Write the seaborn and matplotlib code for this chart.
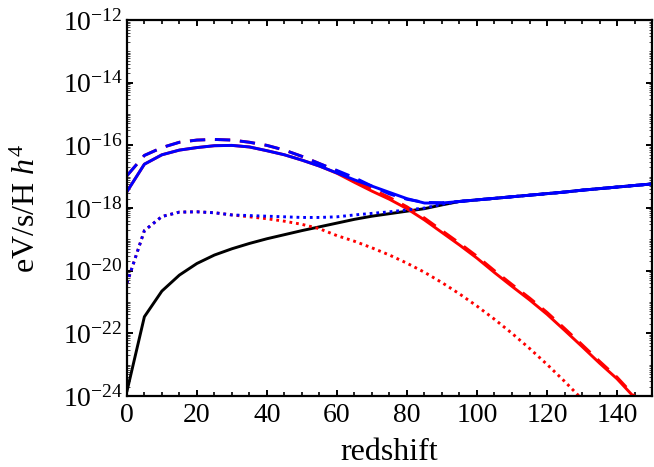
import numpy as np
import pandas as pd
import matplotlib
matplotlib.use("Agg")
import matplotlib.pyplot as plt
import matplotlib.ticker as mticker
import seaborn as sns

# ---------------- data (log10 of eV/s/H h^4) ----------------
z = [0, 5, 10, 15, 20, 25, 30, 35, 40, 45, 50, 55, 60, 65, 70, 75, 80, 85, 90,
     95, 100, 105, 110, 115, 120, 125, 130, 135, 140, 145, 150]

black_solid = [-23.86, -21.47, -20.65, -20.14, -19.77, -19.50, -19.30, -19.13, -18.98,
               -18.85, -18.72, -18.60, -18.48, -18.36, -18.26, -18.18, -18.10, -18.02,
               -17.90, -17.79, -17.74, -17.69, -17.64, -17.59, -17.54, -17.49, -17.43,
               -17.38, -17.33, -17.28, -17.23]

blue_solid = [-17.48, -16.60, -16.30, -16.15, -16.07, -16.01, -16.00, -16.05, -16.17,
              -16.30, -16.47, -16.66, -16.88, -17.10, -17.30, -17.50, -17.70, -17.84,
              -17.84, -17.79, -17.74, -17.69, -17.64, -17.59, -17.54, -17.49, -17.43,
              -17.38, -17.33, -17.28, -17.23]

blue_dashed = [-16.97, -16.32, -16.07, -15.90, -15.83, -15.81, -15.83, -15.90, -16.00,
               -16.15, -16.35, -16.58, -16.80, -17.03, -17.30, -17.55, -17.72, -17.82,
               -17.83, -17.79, -17.74, -17.69, -17.64, -17.59, -17.54, -17.49, -17.43,
               -17.38, -17.33, -17.28, -17.23]

blue_dotted = [-20.40, -18.72, -18.27, -18.13, -18.12, -18.15, -18.22, -18.24, -18.26,
               -18.28, -18.30, -18.30, -18.28, -18.22, -18.17, -18.12, -18.06, -18.00,
               -17.88, -17.79, -17.74, -17.69, -17.64, -17.59, -17.54, -17.49, -17.43,
               -17.38, -17.33, -17.28, -17.23]

red_solid = [-17.48, -16.60, -16.30, -16.15, -16.07, -16.01, -16.00, -16.05, -16.17,
             -16.30, -16.47, -16.66, -16.89, -17.18, -17.46, -17.72, -18.02, -18.38,
             -18.78, -19.18, -19.60, -20.06, -20.50, -20.93, -21.39, -21.90, -22.42,
             -22.95, -23.45, -24.05, -24.70]

red_dashed = [-16.97, -16.32, -16.07, -15.90, -15.83, -15.81, -15.83, -15.90, -16.00,
              -16.15, -16.35, -16.58, -16.82, -17.12, -17.40, -17.66, -17.96, -18.32,
              -18.72, -19.12, -19.54, -20.00, -20.44, -20.87, -21.33, -21.84, -22.36,
              -22.89, -23.40, -24.00, -24.65]

red_dotted = [-20.40, -18.72, -18.27, -18.13, -18.12, -18.15, -18.22, -18.28, -18.34,
              -18.42, -18.52, -18.66, -18.88, -19.06, -19.27, -19.50, -19.76, -20.05,
              -20.38, -20.74, -21.13, -21.55, -22.00, -22.48, -22.99, -23.53, -24.10,
              -24.70, -25.30, -25.90, -26.50]

x_major = [0, 20, 40, 60, 80, 100, 120, 140]
y_major = [1e-24, 1e-22, 1e-20, 1e-18, 1e-16, 1e-14, 1e-12]
xlabel = "redshift"
ylabel = "eV/s/H $\\mathit{h}^{4}$"

# ---------------- style ----------------
sns.set_theme(style="ticks")
plt.rcParams["font.family"] = ["Liberation Serif", "DejaVu Serif"]
plt.rcParams["mathtext.fontset"] = "custom"
plt.rcParams["mathtext.rm"] = "Liberation Serif"
plt.rcParams["mathtext.it"] = "Liberation Serif:italic"
plt.rcParams["mathtext.default"] = "regular"
plt.rcParams["lines.scale_dashes"] = False
plt.rcParams["text.color"] = "black"
plt.rcParams["axes.labelcolor"] = "black"
plt.rcParams["xtick.color"] = "black"
plt.rcParams["ytick.color"] = "black"

fig = plt.figure(figsize=(6.54, 4.67), dpi=100)
ax = fig.add_axes([0.194, 0.152, 0.803, 0.805])
ax.set_yscale("log")

series = [
    (black_solid, "black", "-"),
    (red_dotted, "red", (0, (2.0, 2.8))),
    (red_dashed, "red", (0, (11.0, 7.0))),
    (red_solid, "red", "-"),
    (blue_dotted, "blue", (0, (2.0, 2.8))),
    (blue_dashed, "blue", (0, (11.0, 7.0))),
    (blue_solid, "blue", "-"),
]

for vals, col, ls in series:
    df = pd.DataFrame({"z": z, "v": np.power(10.0, vals)})
    sns.lineplot(data=df, x="z", y="v", ax=ax, color=col, linewidth=2.1,
                 estimator=None, sort=False, legend=False)
    ax.lines[-1].set_linestyle(ls)
    ax.lines[-1].set_dash_capstyle("butt")

ax.set_xlim(0, 150)
ax.set_ylim(1e-24, 1e-12)

ax.xaxis.set_major_locator(mticker.FixedLocator(x_major))
ax.xaxis.set_minor_locator(mticker.MultipleLocator(5))
ax.yaxis.set_major_locator(mticker.FixedLocator(y_major))
ax.yaxis.set_major_formatter(mticker.LogFormatterSciNotation(base=10))
ax.yaxis.set_minor_locator(mticker.LogLocator(base=10.0, subs=np.arange(1, 10), numticks=100))
ax.yaxis.set_minor_formatter(mticker.NullFormatter())

ax.tick_params(which="both", direction="in", top=True, right=True,
               labelsize=20, colors="black")
ax.tick_params(which="major", length=4.5, width=1.4)
ax.tick_params(axis="x", which="major", pad=5)
ax.tick_params(axis="y", which="major", pad=3)
ax.tick_params(axis="x", which="minor", length=2.8, width=1.2)
ax.tick_params(axis="y", which="minor", length=2.0, width=0.5)

for sp in ax.spines.values():
    sp.set_linewidth(1.6)
    sp.set_color("black")
    sp.set_visible(True)

ax.set_xlabel(xlabel, fontsize=23, labelpad=7)
ax.set_ylabel(ylabel, fontsize=23, labelpad=15)

fig.savefig("out.png", dpi=100)
